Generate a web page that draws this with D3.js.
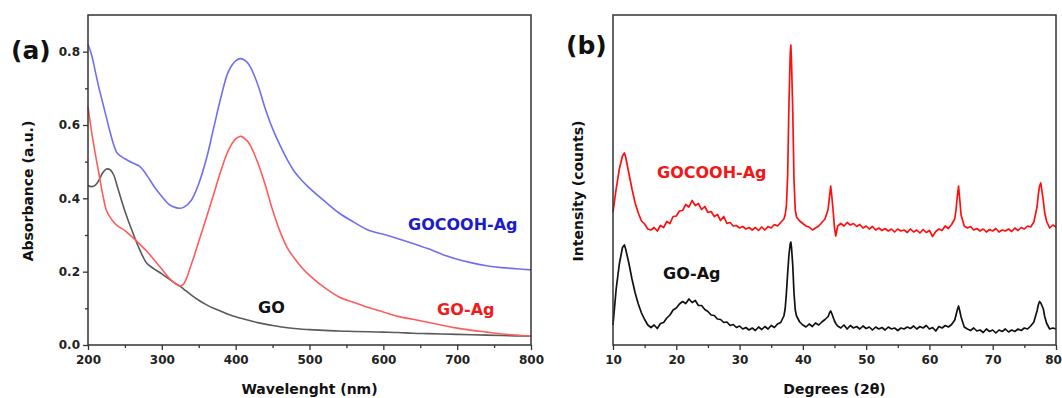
<!DOCTYPE html>
<html>
<head>
<meta charset="utf-8">
<script src="https://cdn.jsdelivr.net/npm/d3@7"></script>
<style>
  body { margin: 0; background: #fff; }
  svg { display: block; }
  text { font-family: 'DejaVu Sans', sans-serif; font-weight: bold; }
</style>
</head>
<body>
<svg id="fig" width="1062" height="398"></svg>
<script>
// ---- panel (a): UV-vis ----
const wavelengths = [200, 205, 210, 215, 220, 225, 230, 235, 240, 250, 260, 270, 280, 290, 300, 310, 320, 325, 330, 340,
  350, 360, 370, 380, 390, 400, 407, 415, 420, 430, 440, 450, 460, 470, 480, 490, 500, 520, 540, 560,
  580, 600, 620, 640, 660, 680, 700, 720, 740, 760, 780, 800]
const absGOCOOHAg = [0.82, 0.79, 0.745, 0.70, 0.66, 0.62, 0.58, 0.545, 0.522, 0.508, 0.497, 0.487, 0.462, 0.431, 0.405, 0.383, 0.374, 0.373, 0.376, 0.395,
  0.44, 0.505, 0.59, 0.675, 0.745, 0.775, 0.781, 0.772, 0.758, 0.71, 0.645, 0.59, 0.545, 0.505, 0.472, 0.448, 0.428, 0.393, 0.36, 0.335,
  0.313, 0.302, 0.29, 0.277, 0.263, 0.247, 0.234, 0.224, 0.216, 0.211, 0.208, 0.205]
const absGOAg = [0.65, 0.58, 0.52, 0.465, 0.41, 0.367, 0.348, 0.335, 0.325, 0.312, 0.294, 0.275, 0.255, 0.231, 0.207, 0.182, 0.165, 0.161, 0.168, 0.22,
  0.282, 0.345, 0.41, 0.475, 0.53, 0.562, 0.569, 0.558, 0.544, 0.497, 0.437, 0.368, 0.31, 0.265, 0.235, 0.21, 0.19, 0.157, 0.131, 0.116,
  0.102, 0.09, 0.078, 0.07, 0.062, 0.054, 0.046, 0.04, 0.035, 0.03, 0.027, 0.024]
const absGO = [0.435, 0.432, 0.436, 0.45, 0.47, 0.48, 0.478, 0.463, 0.43, 0.365, 0.31, 0.26, 0.222, 0.207, 0.194, 0.18, 0.166, 0.16, 0.152, 0.136,
  0.122, 0.11, 0.1, 0.092, 0.084, 0.077, 0.073, 0.069, 0.066, 0.061, 0.057, 0.053, 0.05, 0.047, 0.045, 0.043, 0.042, 0.04, 0.038, 0.037,
  0.036, 0.035, 0.034, 0.032, 0.031, 0.03, 0.029, 0.028, 0.027, 0.026, 0.025, 0.024]
const uvTicksX = [200, 300, 400, 500, 600, 700, 800]
const uvTicksY = [0.0, 0.2, 0.4, 0.6, 0.8]

// ---- panel (b): XRD ----
const angles = [10, 10.5, 11, 11.5, 11.8, 12, 12.5,
  13, 13.5, 14, 14.5, 15, 15.5, 16, 16.5, 17, 17.5, 18, 18.5, 19, 19.5, 20, 20.5, 21, 21.5, 22, 22.5, 23, 23.5, 24, 24.5,
  25, 25.5, 26, 26.5, 27, 27.5, 28, 28.5, 29, 29.5, 30, 30.5, 31, 31.5, 32, 32.5, 33, 33.5, 34, 34.5, 35, 35.5, 36, 36.5,
  37, 37.2, 37.4, 37.6, 37.8, 38, 38.1, 38.2, 38.4, 38.6, 38.8, 39, 39.5,
  40, 40.5, 41, 41.5, 42, 42.5, 43, 43.5,
  44, 44.2, 44.4, 44.6, 44.8, 45, 45.2, 45.5,
  46, 46.5, 47, 47.5, 48, 48.5, 49, 49.5, 50, 50.5, 51, 51.5, 52, 52.5, 53, 53.5, 54, 54.5,
  55, 55.5, 56, 56.5, 57, 57.5, 58, 58.5, 59, 59.5, 60, 60.5, 61, 61.5, 62, 62.5, 63, 63.5,
  64, 64.2, 64.4, 64.6, 64.8, 65, 65.5,
  66, 66.5, 67, 67.5, 68, 68.5, 69, 69.5, 70, 70.5, 71, 71.5, 72, 72.5, 73, 73.5, 74, 74.5, 75, 75.5, 76, 76.5,
  77, 77.2, 77.4, 77.6, 77.8, 78, 78.2, 78.5, 79, 79.5, 80]
const countsGOCOOHAg = [1330, 1560, 1760, 1890, 1920, 1880, 1720,
  1560, 1420, 1320, 1240, 1210, 1160, 1150, 1175, 1140, 1195, 1175, 1235, 1215, 1285, 1290, 1340, 1345, 1405, 1380, 1445, 1395, 1415, 1355, 1385,
  1325, 1335, 1285, 1305, 1245, 1285, 1215, 1225, 1190, 1195, 1170, 1185, 1160, 1175, 1150, 1175, 1145, 1180, 1150, 1185, 1170, 1205, 1190, 1225,
  1260, 1300, 1390, 1700, 2400, 2900, 3000, 2850, 2350, 1650, 1350, 1280, 1240,
  1215, 1190, 1180, 1150, 1170, 1190, 1225, 1260,
  1360, 1480, 1590, 1470, 1330, 1170, 1090, 1190,
  1215, 1190, 1225, 1200, 1215, 1185, 1205, 1170, 1190, 1160, 1185, 1150, 1170, 1145, 1165, 1140, 1160, 1130,
  1160, 1140, 1150, 1125, 1160, 1130, 1150, 1120, 1155, 1125, 1145, 1085, 1135, 1160, 1145, 1190, 1165, 1205,
  1260, 1350, 1480, 1590, 1450, 1300, 1190,
  1170, 1185, 1150, 1165, 1140, 1160, 1130, 1155, 1140, 1165, 1130, 1150, 1140, 1160, 1135, 1170, 1145, 1175, 1160, 1190, 1180, 1230,
  1380, 1500, 1590, 1620, 1530, 1440, 1330, 1240, 1170, 1200, 1180]
const countsGOAg = [200, 560, 810, 975, 1000, 960, 820,
  660, 520, 410, 320, 255, 200, 175, 200, 165, 215, 225, 270, 300, 350, 370, 410, 435, 415, 460, 425, 445, 395, 395, 355,
  335, 300, 295, 260, 255, 225, 230, 195, 205, 175, 190, 160, 175, 150, 170, 145, 180, 155, 185, 160, 195, 175, 210, 225,
  290, 360, 520, 720, 900, 1010, 1030, 980, 800, 520, 350, 290, 230,
  200, 180, 210, 185, 220, 200, 230, 255,
  285, 320, 340, 310, 275, 240, 215, 190,
  170, 200, 160, 195, 170, 185, 160, 190, 165, 180, 150, 180, 160, 175, 150, 180, 160, 170,
  145, 170, 160, 180, 165, 190, 160, 185, 170, 195, 160, 175, 140, 185, 170, 195, 180, 205,
  250, 300, 350, 390, 340, 280, 180,
  160, 145, 170, 140, 150, 125, 160, 135, 150, 120, 150, 135, 160, 130, 150, 135, 160, 145, 170, 160, 190, 230,
  340, 400, 435, 420, 390, 360, 290, 220, 160, 170, 160]
const xrdTicksX = [10, 20, 30, 40, 50, 60, 70, 80]

const svg = d3.select('#fig')
const frameColor = '#333'
const tickFont = 12

function panelAxes(g, x, y, xticks, xminor, yticks, yminor, yfmt) {
  const [x0, x1] = x.range()
  const [y0, y1] = y.range()

  const xa = g.append('g').attr('transform', `translate(0,${y0})`)
  xa.call(d3.axisBottom(x).tickValues(xminor).tickSize(3).tickFormat(''))
  xa.select('.domain').remove()
  const xb = g.append('g').attr('class', 'xmajor').attr('transform', `translate(0,${y0})`)
  xb.call(d3.axisBottom(x).tickValues(xticks).tickSize(5).tickPadding(5).tickFormat(d3.format('d')))
  xb.select('.domain').remove()

  if (yticks) {
    const ya = g.append('g').attr('transform', `translate(${x0},0)`)
    ya.call(d3.axisLeft(y).tickValues(yminor).tickSize(3).tickFormat(''))
    ya.select('.domain').remove()
    const yb = g.append('g').attr('transform', `translate(${x0},0)`)
    yb.call(d3.axisLeft(y).tickValues(yticks).tickSize(5).tickPadding(3).tickFormat(yfmt))
    yb.select('.domain').remove()
  }

  g.selectAll('.tick line').attr('stroke', frameColor).attr('stroke-width', 1.3)
  g.selectAll('.tick text')
    .attr('font-family', 'DejaVu Sans')
    .attr('font-weight', 'bold')
    .attr('font-size', tickFont)
    .attr('fill', '#222')

  g.append('rect')
    .attr('x', x0).attr('y', y1)
    .attr('width', x1 - x0).attr('height', y0 - y1)
    .attr('fill', 'none')
    .attr('stroke', frameColor)
    .attr('stroke-width', 1.5)
}

// ---------- panel (a) ----------
const pa = svg.append('g')
const xa = d3.scaleLinear().domain([200, 800]).range([88, 531])
const ya = d3.scaleLinear().domain([0, 0.9]).range([345, 15])

const uvLine = d3.line()
  .x(d => xa(d[0]))
  .y(d => ya(d[1]))
  .curve(d3.curveCatmullRom)

const uvSeries = [
  { vals: absGO, color: '#5a5a5a' },
  { vals: absGOAg, color: '#ff5c5c' },
  { vals: absGOCOOHAg, color: '#6f6ff2' }
]
uvSeries.forEach(s => {
  pa.append('path')
    .datum(wavelengths.map((w, i) => [w, s.vals[i]]))
    .attr('d', uvLine)
    .attr('fill', 'none')
    .attr('stroke', s.color)
    .attr('stroke-width', 1.6)
})

panelAxes(pa, xa, ya, uvTicksX, [250, 350, 450, 550, 650, 750], uvTicksY, [0.1, 0.3, 0.5, 0.7], d3.format('.1f'))

pa.append('text').attr('x', 408).attr('y', 230).attr('font-size', 16).attr('fill', '#1c1cc8').text('GOCOOH-Ag')
pa.append('text').attr('x', 437).attr('y', 315).attr('font-size', 16).attr('fill', '#ee1c1c').text('GO-Ag')
pa.append('text').attr('x', 258).attr('y', 313).attr('font-size', 16).attr('fill', '#111').text('GO')

pa.append('text')
  .attr('x', (88 + 531) / 2).attr('y', 394)
  .attr('text-anchor', 'middle').attr('font-size', 14).attr('fill', '#111')
  .text('Wavelenght (nm)')
pa.append('text')
  .attr('transform', 'translate(33,191) rotate(-90)')
  .attr('text-anchor', 'middle').attr('font-size', 14).attr('fill', '#111')
  .text('Absorbance (a.u.)')
pa.append('text')
  .attr('x', 11).attr('y', 59)
  .attr('font-family', 'Liberation Sans').attr('font-size', 25).attr('fill', '#111')
  .text('(a)')

// ---------- panel (b) ----------
const pb = svg.append('g')
const xb = d3.scaleLinear().domain([10, 80]).range([613, 1056])
const yb = d3.scaleLinear().domain([0, 3300]).range([345, 15])

const xrdLine = d3.line()
  .x(d => xb(d[0]))
  .y(d => yb(d[1]))

const xrdSeries = [
  { vals: countsGOAg, color: '#111' },
  { vals: countsGOCOOHAg, color: '#ff1010' }
]
xrdSeries.forEach(s => {
  pb.append('path')
    .datum(angles.map((a, i) => [a, s.vals[i]]))
    .attr('d', xrdLine)
    .attr('fill', 'none')
    .attr('stroke', s.color)
    .attr('stroke-width', 1.7)
    .attr('stroke-linejoin', 'round')
})

panelAxes(pb, xb, yb, xrdTicksX, [15, 25, 35, 45, 55, 65, 75], null, null, null)
// keep the last tick label inside the page
pb.selectAll('.xmajor .tick text').filter(d => d === 80).attr('dx', -3)

pb.append('text').attr('x', 657).attr('y', 178).attr('font-size', 16).attr('fill', '#f01818').text('GOCOOH-Ag')
pb.append('text').attr('x', 663).attr('y', 279).attr('font-size', 16).attr('fill', '#111').text('GO-Ag')

pb.append('text')
  .attr('x', (613 + 1056) / 2).attr('y', 394)
  .attr('text-anchor', 'middle').attr('font-size', 14).attr('fill', '#111')
  .text('Degrees (2θ)')
pb.append('text')
  .attr('transform', 'translate(583,191) rotate(-90)')
  .attr('text-anchor', 'middle').attr('font-size', 14).attr('fill', '#111')
  .text('Intensity (counts)')
pb.append('text')
  .attr('x', 566).attr('y', 54)
  .attr('font-family', 'Liberation Sans').attr('font-size', 25).attr('fill', '#111')
  .text('(b)')
</script>
</body>
</html>
